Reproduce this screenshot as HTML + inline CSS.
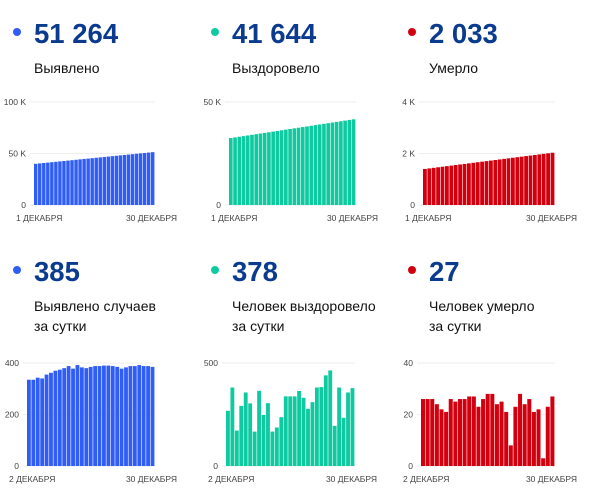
<!DOCTYPE html>
<html><head><meta charset="utf-8"><style>
body{margin:0;width:600px;height:495px;background:#fff;overflow:hidden;font-family:"Liberation Sans",sans-serif}
svg{position:absolute;left:0;top:0}
</style></head><body>
<svg id="s" width="600" height="495" xmlns="http://www.w3.org/2000/svg" font-family="Liberation Sans, sans-serif"></svg>
<script>
var s=document.getElementById('s'),h='';
function head(x,y,col,num,l1,l2){
 h+='<circle cx="'+(x+4)+'" cy="'+(y-11)+'" r="4" fill="'+col+'"/>';
 h+='<text x="'+(x+21)+'" y="'+y+'" font-size="27.5" font-weight="bold" fill="#0b3b8f">'+num+'</text>';
 h+='<text x="'+(x+21)+'" y="'+(y+30)+'" font-size="14" fill="#111">'+l1+'</text>';
 if(l2)h+='<text x="'+(x+21)+'" y="'+(y+50)+'" font-size="14" fill="#111">'+l2+'</text>';
}
function chart(x0,x1,base,top,max,ticks,vals,col,l1,l2){
 ticks.forEach(function(t){var y=base-(t[0]/max)*(base-top);
  h+='<line x1="'+(x0-4)+'" x2="'+x1+'" y1="'+y+'" y2="'+y+'" stroke="#eee"/>';
  h+='<text x="'+(x0-8)+'" y="'+(y+3)+'" font-size="8.5" fill="#444" text-anchor="end">'+t[1]+'</text>';});
 var n=vals.length,w=(x1-x0)/n;
 vals.forEach(function(v,i){var y=base-(v/max)*(base-top);
  h+='<rect x="'+(x0+i*w)+'" y="'+y+'" width="'+(w-0.6)+'" height="'+(base-y)+'" fill="'+col+'"/>';});
 h+='<text x="'+(x0-18)+'" y="'+(base+16)+'" font-size="8.5" fill="#444">'+l1+'</text>';
 h+='<text x="'+(x1+22)+'" y="'+(base+16)+'" font-size="8.5" fill="#444" text-anchor="end">'+l2+'</text>';
}
function lin(a,b,n){var r=[];for(var i=0;i<n;i++)r.push(a+(b-a)*i/(n-1));return r;}
var B='#2f5df5',G='#0fcaa0',R='#d2000f';
head(13,43,B,'51 264','Выявлено');
head(211,43,G,'41 644','Выздоровело');
head(408,43,R,'2 033','Умерло');
chart(34,155,205,102,100,[[0,'0'],[50,'50 K'],[100,'100 K']],lin(40,51.3,30),B,'1 ДЕКАБРЯ','30 ДЕКАБРЯ');
chart(229,356,205,102,50,[[0,'0'],[50,'50 K']],lin(32.5,41.6,30),G,'1 ДЕКАБРЯ','30 ДЕКАБРЯ');
chart(423,555,205,102,4,[[0,'0'],[2,'2 K'],[4,'4 K']],lin(1.4,2.03,30),R,'1 ДЕКАБРЯ','30 ДЕКАБРЯ');
head(13,281,B,'385','Выявлено случаев','за сутки');
head(211,281,G,'378','Человек выздоровело','за сутки');
head(408,281,R,'27','Человек умерло','за сутки');
chart(27,155,466,363,400,[[0,'0'],[200,'200'],[400,'400']],[335,335,343,340,355,362,370,374,380,388,378,392,383,380,385,388,388,390,390,388,385,378,383,388,388,392,388,388,385],B,'2 ДЕКАБРЯ','30 ДЕКАБРЯ');
chart(226,355,466,363,500,[[0,'0'],[500,'500']],[268,381,172,292,357,304,167,365,248,305,167,187,237,338,338,338,364,331,278,310,381,383,440,464,195,381,234,357,378],G,'2 ДЕКАБРЯ','30 ДЕКАБРЯ');
chart(421,555,466,363,40,[[0,'0'],[20,'20'],[40,'40']],[26,26,26,24,22,21,26,25,26,26,27,27,23,26,28,28,24,25,21,8,23,28,24,26,21,22,3,23,27],R,'2 ДЕКАБРЯ','30 ДЕКАБРЯ');
s.innerHTML=h;
</script>
</body></html>
